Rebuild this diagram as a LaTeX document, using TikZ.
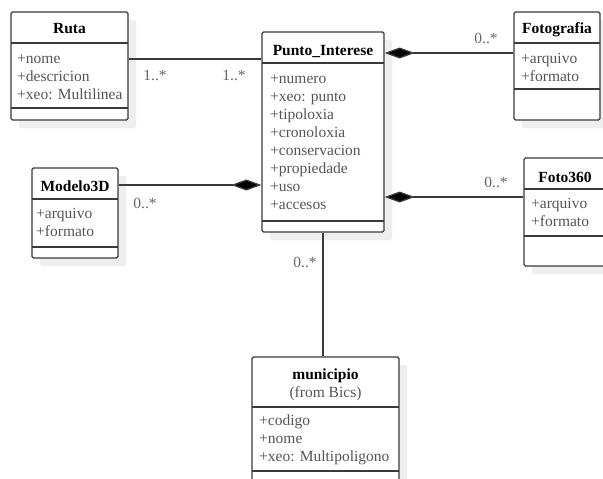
\documentclass[tikz,border=0pt]{standalone}
\usepackage{fontspec}
\setmainfont{Liberation Serif}
\usetikzlibrary{arrows.meta,fit,shadows}
\definecolor{bordercol}{HTML}{3A3A3A}
\definecolor{attrcol}{HTML}{555555}
\definecolor{labcol}{HTML}{666666}
\definecolor{shadcol}{HTML}{EEEEEE}
\tikzset{
 classbox/.style={draw=bordercol, line width=1.3pt, rounded corners=1.5pt, fill=white, inner sep=0pt,
   drop shadow={shadow xshift=8pt, shadow yshift=-8pt, fill=shadcol, opacity=1}},
 sepline/.style={draw=bordercol, line width=1.3pt},
 ctitle/.style={font=\fontsize{15.5}{18}\selectfont\bfseries, text=black, anchor=base, inner sep=0pt},
 csub/.style={font=\fontsize{15.5}{18}\selectfont, text=attrcol, anchor=base, inner sep=0pt},
 attr/.style={font=\fontsize{15.5}{18}\selectfont, text=attrcol, anchor=base west, inner sep=0pt},
 mult/.style={font=\fontsize{15.5}{18}\selectfont, text=labcol, inner sep=0pt},
 assoc/.style={draw=bordercol, line width=1.3pt},
 comp/.style={assoc, -{Diamond[length=30pt,width=11pt,fill=black]}},
}
\newcommand\attrlist[4]{%
 \foreach \t [count=\i] in {#4} \node[attr] (#1-a\i) at (#2,{#3+18*(\i-1)}) {\t};}
\begin{document}
\begin{tikzpicture}[x=1pt,y=-1pt]
\useasboundingbox (0,0) rectangle (603,479);
\clip (0,0) rectangle (603,479);
\fill[white] (0,0) rectangle (603,479);
% Ruta
\node[classbox, fit={(11,12)(128,120)}] (ruta) {};
\draw[sepline] (11,43) -- (128,43) (11,108) -- (128,108);
\node[ctitle] (ruta-t) at (69.5,34) {Ruta};
\attrlist{ruta}{17}{63}{+nome,+descricion,+xeo: Multilinea}
% Punto_Interese
\node[classbox, fit={(262,32)(384,232)}] (punto) {};
\draw[sepline] (262,63) -- (384,63) (262,221) -- (384,221);
\node[ctitle] (punto-t) at (323,55) {Punto\_Interese};
\attrlist{punto}{270}{83}{+numero,+xeo: punto,+tipoloxia,+cronoloxia,+conservacion,+propiedade,+uso,+accesos}
% Fotografia
\node[classbox, fit={(514,12)(600,120)}] (foto) {};
\draw[sepline] (514,43) -- (600,43) (514,89) -- (600,89);
\node[ctitle] (foto-t) at (557,34) {Fotografia};
\attrlist{foto}{521}{63}{+arquivo,+formato}
% Foto360
\node[classbox, fit={(524,158)(607,266)}] (f360) {};
\draw[sepline] (524,189) -- (607,189) (524,236) -- (607,236);
\node[ctitle] (f360-t) at (565,182) {Foto360};
\attrlist{f360}{531}{208}{+arquivo,+formato}
% Modelo3D
\node[classbox, fit={(32,168)(118,258)}] (modelo) {};
\draw[sepline] (32,199) -- (118,199) (32,247) -- (118,247);
\node[ctitle] (modelo-t) at (75,191) {Modelo3D};
\attrlist{modelo}{36}{218}{+arquivo,+formato}
% municipio
\node[classbox, fit={(252,357)(399,500)}] (muni) {};
\draw[sepline] (252,407) -- (399,407) (252,471) -- (399,471);
\node[ctitle] (muni-t) at (325.5,379) {municipio};
\node[csub] (muni-s) at (325.5,397) {(from Bics)};
\attrlist{muni}{259}{425}{+codigo,+nome,+xeo: Multipoligono}
% connectors
\draw[assoc] (ruta.east |- 0,59) -- (punto.west |- 0,59);
\draw[comp] (foto.west |- 0,53) -- (punto.east |- 0,53);
\draw[comp] (f360.west |- 0,197) -- (punto.east |- 0,197);
\draw[comp] (modelo.east |- 0,185) -- (punto.west |- 0,185);
\draw[assoc] (punto.south) -- (punto.south |- muni.north);
% multiplicities
\node[mult] (m1) at (155,75) {1..*};
\node[mult] (m2) at (234,75) {1..*};
\node[mult] (m3) at (486,38) {0..*};
\node[mult] (m4) at (496,182) {0..*};
\node[mult] (m5) at (145,203) {0..*};
\node[mult] (m6) at (305,262) {0..*};
\end{tikzpicture}
\end{document}
